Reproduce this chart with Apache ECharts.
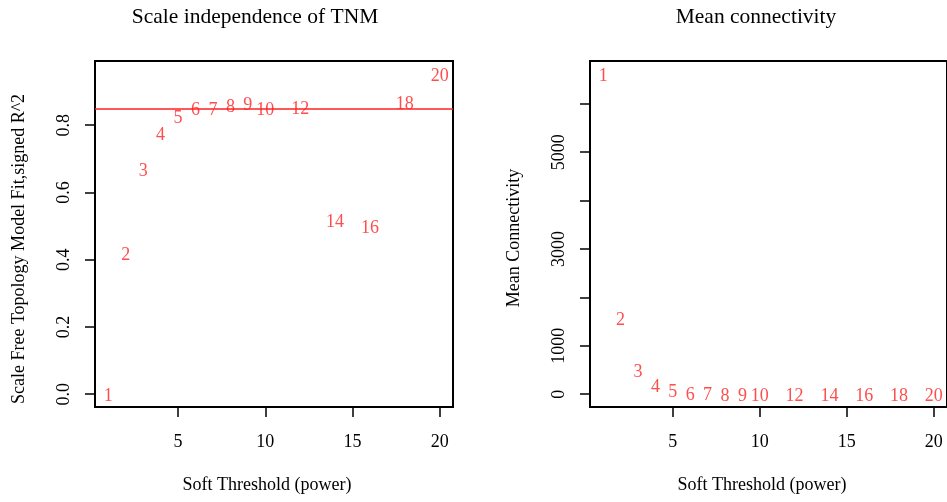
<!DOCTYPE html>
<html>
<head>
<meta charset="utf-8">
<script src="https://cdn.jsdelivr.net/npm/echarts@6/dist/echarts.min.js"></script>
<style>
html,body{margin:0;padding:0;background:#fff;}
#chart{width:947px;height:502px;}
</style>
</head>
<body>
<div id="chart"></div>
<script>
// ---- data ----
const powers = [1, 2, 3, 4, 5, 6, 7, 8, 9, 10, 12, 14, 16, 18, 20];
const scaleFreeFit = [0.0, 0.42, 0.67, 0.777, 0.827, 0.851, 0.852, 0.858, 0.864, 0.851, 0.853, 0.516, 0.499, 0.867, 0.953];
const meanConnectivity = [6620, 1560, 490, 175, 75, 25, 12, 8, 4, 3, 1.5, 0.8, 0.5, 0.3, 0.2];
const xTicks = [5, 10, 15, 20];
const leftYTicks = [0, 0.2, 0.4, 0.6, 0.8];
const rightYTicks = [0, 1000, 2000, 3000, 4000, 5000, 6000];
const rightYLabels = [0, 1000, 3000, 5000];
const cutLine = 0.85;
const titles = ['Scale independence of TNM', 'Mean connectivity'];
const xName = 'Soft Threshold (power)';
const yNames = ['Scale Free Topology Model Fit,signed R^2', 'Mean Connectivity'];

// ---- style ----
const FONT = "'Liberation Serif', 'Times New Roman', serif";
const RED = '#ff2020';

// R-like 4% range extension
function rRange(vals) {
  const mn = Math.min(...vals), mx = Math.max(...vals);
  const r = mx - mn;
  return [mn - 0.04 * r, mx + 0.04 * r];
}
const xr = rRange(powers);
const y1 = rRange(scaleFreeFit);
const y2 = rRange(meanConnectivity);

function xAxisCfg(gi) {
  return {
    type: 'value', gridIndex: gi, min: xr[0], max: xr[1],
    axisLine: { show: false, onZero: false },
    splitLine: { show: false },
    axisTick: { show: true, inside: false, length: 10, customValues: xTicks, lineStyle: { color: '#000', width: 1.5 } },
    axisLabel: { show: true, customValues: xTicks, margin: 26, fontFamily: FONT, fontSize: 18, color: '#000' }
  };
}

const chart = echarts.init(document.getElementById('chart'), null, { renderer: 'canvas' });
chart.setOption({
  animation: false,
  backgroundColor: '#fff',
  grid: [
    { left: 95, top: 61, width: 358, height: 346, show: true, borderColor: '#000', borderWidth: 2, backgroundColor: 'transparent' },
    { left: 590, top: 61, width: 358, height: 346, show: true, borderColor: '#000', borderWidth: 2, backgroundColor: 'transparent' }
  ],
  xAxis: [xAxisCfg(0), xAxisCfg(1)],
  yAxis: [
    {
      type: 'value', gridIndex: 0, min: y1[0], max: y1[1],
      axisLine: { show: false, onZero: false }, splitLine: { show: false },
      axisTick: { show: true, inside: false, length: 10, customValues: leftYTicks, lineStyle: { color: '#000', width: 1.5 } },
      axisLabel: { show: true, customValues: leftYTicks, rotate: 90, margin: 22, fontFamily: FONT, fontSize: 18, color: '#000',
        formatter: v => Number(v).toFixed(1) }
    },
    {
      type: 'value', gridIndex: 1, min: y2[0], max: y2[1],
      axisLine: { show: false, onZero: false }, splitLine: { show: false },
      axisTick: { show: true, inside: false, length: 10, customValues: rightYTicks, lineStyle: { color: '#000', width: 1.5 } },
      axisLabel: { show: true, customValues: rightYLabels, rotate: 90, margin: 22, fontFamily: FONT, fontSize: 18, color: '#000',
        formatter: v => String(Math.round(v)) }
    }
  ],
  series: [
    {
      type: 'scatter', xAxisIndex: 0, yAxisIndex: 0, silent: true,
      data: powers.map((p, i) => [p, scaleFreeFit[i]]),
      symbolSize: 1, itemStyle: { color: 'rgba(0,0,0,0)' },
      label: { show: true, position: 'inside', offset: [0, 2], formatter: p => String(p.value[0]), color: RED, fontFamily: FONT, fontSize: 18 },
      markLine: {
        silent: true, symbol: ['none', 'none'], label: { show: false },
        lineStyle: { color: RED, width: 1.5, type: 'solid' },
        data: [{ yAxis: cutLine }]
      }
    },
    {
      type: 'scatter', xAxisIndex: 1, yAxisIndex: 1, silent: true,
      data: powers.map((p, i) => [p, meanConnectivity[i]]),
      symbolSize: 1, itemStyle: { color: 'rgba(0,0,0,0)' },
      label: { show: true, position: 'inside', offset: [0, 2], formatter: p => String(p.value[0]), color: RED, fontFamily: FONT, fontSize: 18 }
    }
  ],
  graphic: [
    { type: 'text', x: 255, y: 17, style: { text: titles[0], fill: '#000', font: "21.5px " + FONT, align: 'center', verticalAlign: 'middle' } },
    { type: 'text', x: 756, y: 17, style: { text: titles[1], fill: '#000', font: "21.5px " + FONT, align: 'center', verticalAlign: 'middle' } },
    { type: 'text', x: 267, y: 485, style: { text: xName, fill: '#000', font: "18px " + FONT, align: 'center', verticalAlign: 'middle' } },
    { type: 'text', x: 762, y: 485, style: { text: xName, fill: '#000', font: "18px " + FONT, align: 'center', verticalAlign: 'middle' } },
    { type: 'text', x: 19, y: 249, rotation: Math.PI / 2, style: { text: yNames[0], fill: '#000', font: "18px " + FONT, align: 'center', verticalAlign: 'middle' } },
    { type: 'text', x: 514, y: 238, rotation: Math.PI / 2, style: { text: yNames[1], fill: '#000', font: "18px " + FONT, align: 'center', verticalAlign: 'middle' } }
  ]
});
</script>
</body>
</html>
